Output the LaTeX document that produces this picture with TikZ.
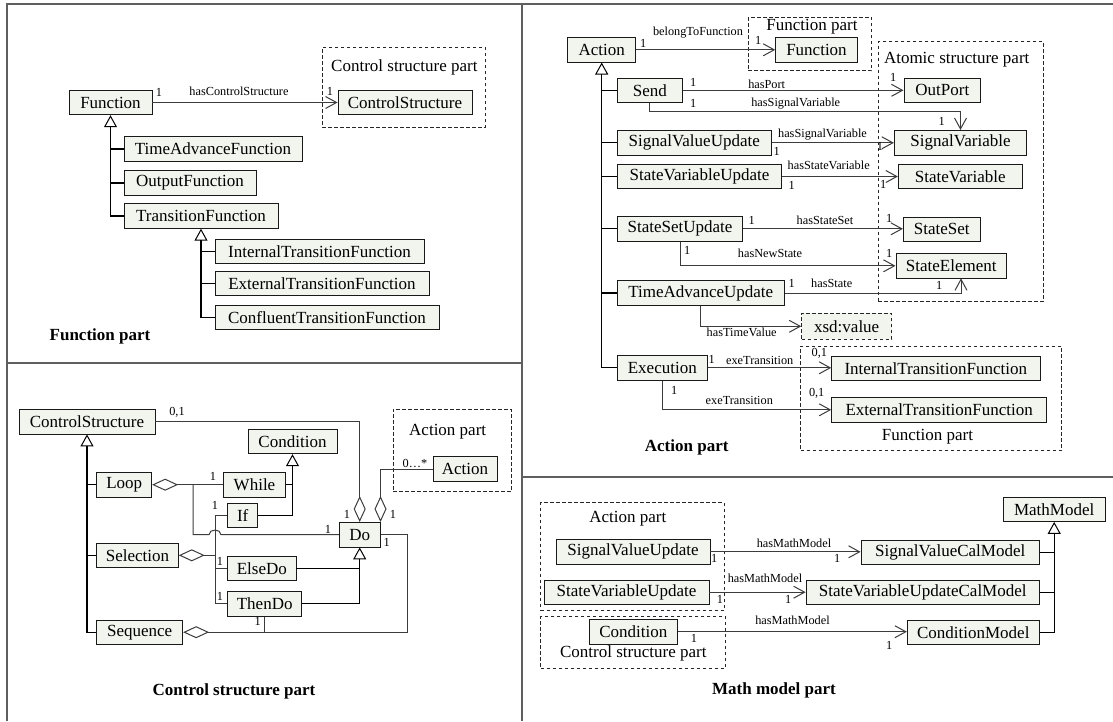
\documentclass[tikz,border=0pt]{standalone}
\usepackage{fontspec}
\setmainfont{Liberation Serif}
\usetikzlibrary{arrows.meta}
\definecolor{boxfill}{RGB}{242,244,238}
\definecolor{linegray}{RGB}{60,60,60}
\definecolor{framegray}{RGB}{95,95,95}

\begin{document}
\begin{tikzpicture}[x=1pt,y=-1pt,
  cls/.style={draw=black!90, fill=boxfill, line width=0.9pt, minimum height=24.5pt, inner sep=0pt, font=\fontsize{17}{17}\selectfont},
  grp/.style={draw=black!85, dash pattern=on 3.5pt off 2.5pt, line width=0.9pt, inner sep=0pt},
  grptext/.style={font=\fontsize{17}{17}\selectfont, inner sep=0pt},
  lbl/.style={font=\fontsize{12.3}{12}\selectfont, inner sep=0pt},
  ttl/.style={font=\bfseries\fontsize{17}{17}\selectfont, inner sep=0pt},
  frame/.style={draw=framegray, line width=1.4pt},
  link/.style={draw=linegray, line width=1pt},
  assoc/.style={link, -{Straight Barb[length=11pt,width=12pt,line width=1pt]}},
  genline/.style={draw=black, line width=1.2pt},
  gen/.style={genline, -{Triangle[open,length=12pt,width=13pt,line width=1pt]}},
  agg/.style={link, {Diamond[open,length=26pt,width=12pt,line width=1pt]}-},
]
\useasboundingbox (0,0) rectangle (1113,721);

% ---------- frame and quadrant dividers ----------
\coordinate (ftl) at (7,4);
\coordinate (ftr) at (1113,4);
\coordinate (fbl) at (7,721);
\coordinate (vtop) at (522,4);
\coordinate (vbot) at (522,721);
\coordinate (hl) at (7,363);
\coordinate (hm) at (522,363);
\coordinate (hr1) at (522,477);
\coordinate (hr2) at (1113,477);
\draw[frame] (fbl) -- (ftl) -- (ftr);
\draw[frame] (vtop) -- (vbot);
\draw[frame] (hl) -- (hm);
\draw[frame] (hr1) -- (hr2);

% ================= Function part =================
\node[grp,minimum width=163pt,minimum height=80pt] (csgrp) at (403.5,87) {};
\node[grptext,anchor=west] (csgrpt) at (331,67) {Control structure part};
\node[cls,minimum width=83pt] (fn) at (110.5,102.5) {Function};
\node[cls,minimum width=134pt] (cs1) at (405,102.5) {ControlStructure};
\node[cls,minimum width=178pt] (taf) at (213,149) {TimeAdvanceFunction};
\node[cls,minimum width=132pt] (of) at (190,183) {OutputFunction};
\node[cls,minimum width=154pt] (tf) at (201,216) {TransitionFunction};
\node[cls,minimum width=209pt] (itf) at (319.5,251.3) {InternalTransitionFunction};
\node[cls,minimum width=214pt] (etf) at (322,283.3) {ExternalTransitionFunction};
\node[cls,minimum width=224pt] (ctf) at (327,317.3) {ConfluentTransitionFunction};
\node[ttl] (t1) at (100,336.7) {Function part};

\draw[assoc] (fn.east) -- (cs1.west);
\node[lbl] (f1) at (159,92) {1};
\node[lbl] (f2) at (239,91) {hasControlStructure};
\node[lbl] (f3) at (330,91) {1};

\draw[gen] (tf.west) -| (fn.south);
\draw[genline] (taf.west) -- (taf.west -| fn.south);
\draw[genline] (of.west) -- (of.west -| fn.south);
\draw[gen] (ctf.west) -| (tf.south);
\draw[genline] (itf.west) -- (itf.west -| tf.south);
\draw[genline] (etf.west) -- (etf.west -| tf.south);

% ================= Control structure part =================
\node[grp,minimum width=118pt,minimum height=82.7pt] (actgrp) at (452,450.3) {};
\node[grptext,anchor=west] (actgrpt) at (409,432) {Action part};
\node[cls,minimum width=64pt] (act1) at (465,469) {Action};
\node[cls,minimum width=136pt] (cs2) at (87,421.7) {ControlStructure};
\node[cls,minimum width=89pt] (cond) at (292.5,441.5) {Condition};
\node[cls,minimum width=55pt] (loop) at (124.2,484.7) {Loop};
\node[cls,minimum width=62.4pt] (while) at (254.5,484.7) {While};
\node[cls,minimum width=30pt] (if) at (242.7,515.3) {If};
\node[cls,minimum width=40.7pt] (do) at (359.7,534.7) {Do};
\node[cls,minimum width=81.6pt] (sel) at (137.5,555.3) {Selection};
\node[cls,minimum width=68.3pt] (elsedo) at (261.8,568.3) {ElseDo};
\node[cls,minimum width=74pt] (thendo) at (264.7,603.8) {ThenDo};
\node[cls,minimum width=86pt] (seq) at (139.7,632.2) {Sequence};
\node[ttl] (t2) at (234,691.7) {Control structure part};

% inheritance
\draw[gen] (seq.west) -| (cs2.south);
\draw[genline] (loop.west) -- (loop.west -| cs2.south);
\draw[genline] (sel.west) -- (sel.west -| cs2.south);
\draw[gen] (if.east) -| (cond.south);
\draw[genline] (while.east) -- (while.east -| cond.south);
\draw[gen] (thendo.east) -| (do.south);
\draw[genline] (elsedo.east) -- (elsedo.east -| do.south);

% aggregations
\draw[agg] (do.north) |- (cs2.east);
\draw[agg] (do.north east) |- (act1.west);
\node[lbl] (c1) at (177,412.7) {0,1};
\node[lbl] (c2) at (415,463) {0…*};
\node[lbl] (c3) at (347,514) {1};
\node[lbl] (c4) at (393,514) {1};

\coordinate (lj) at (193,484.7);
\draw[agg] (loop.east) -- (while.west);
\draw[link] (lj) -- (lj |- do.west) -- (209,534.7)
  .. controls (209,528.5) and (221,528.5) .. (221,534.7) -- (do.west);
\node[lbl] (c5) at (213,476.7) {1};
\node[lbl] (c6) at (328,529) {1};

\coordinate (sj) at (215,555.3);
\draw[agg] (sel.east) -- (sj);
\draw[link] (if.west) -| (thendo.west -| sj) -- (thendo.west);
\draw[link] (elsedo.west) -- (elsedo.west -| sj);
\node[lbl] (c7) at (215,505) {1};
\node[lbl] (c8) at (220,561.7) {1};
\node[lbl] (c9) at (220,596.7) {1};

\coordinate (dj) at (407.3,632.2);
\draw[agg] (seq.east) -- (dj) |- (do.east);
\draw[link] (thendo.south) -- (thendo.south |- seq.east);
\node[lbl] (c10) at (386.7,542.7) {1};
\node[lbl] (c11) at (257.7,621.7) {1};

% ================= Action part =================
\node[grp,minimum width=123.4pt,minimum height=53.4pt] (fngrp) at (810,44) {};
\node[grptext] (fngrpt) at (812,26.7) {Function part};
\node[grp,minimum width=165pt,minimum height=260pt] (atgrp) at (960.8,171.7) {};
\node[grptext] (atgrpt) at (956.7,60) {Atomic structure part};
\node[grp,minimum width=261pt,minimum height=104.7pt] (fngrp2) at (931.2,398.3) {};
\node[grptext] (fngrp2t) at (927.5,436.7) {Function part};

\node[cls,minimum width=68pt] (act) at (601.7,49.8) {Action};
\node[cls,minimum width=81.6pt] (fnr) at (816.5,49.8) {Function};
\node[cls,minimum width=65pt] (send) at (649.8,90.3) {Send};
\node[cls,minimum width=76.7pt] (outport) at (942.3,90.3) {OutPort};
\node[cls,minimum width=153.7pt] (svu) at (694.2,142.8) {SignalValueUpdate};
\node[cls,minimum width=132.4pt] (sigvar) at (960.5,142.7) {SignalVariable};
\node[cls,minimum width=164.4pt] (svup) at (699.5,176.5) {StateVariableUpdate};
\node[cls,minimum width=124pt] (statevar) at (960.3,176.5) {StateVariable};
\node[cls,minimum width=125.4pt] (ssu) at (680,228.8) {StateSetUpdate};
\node[cls,minimum width=76.7pt] (stateset) at (941.7,229.2) {StateSet};
\node[cls,minimum width=110.7pt] (stateel) at (951.3,265.8) {StateElement};
\node[cls,minimum width=167pt] (tau) at (700.8,293) {TimeAdvanceUpdate};
\node[cls,grp,minimum width=90pt,minimum height=26pt] (xsd) at (846.7,326.3) {xsd:value};
\node[cls,minimum width=90pt] (exe) at (662.3,367.8) {Execution};
\node[cls,minimum width=208.3pt] (itf2) at (935.8,368.3) {InternalTransitionFunction};
\node[cls,minimum width=215pt] (etf2) at (939.2,409.8) {ExternalTransitionFunction};
\node[ttl] (t3) at (686.7,447.7) {Action part};

% inheritance
\draw[gen] (exe.west) -| (act.south);
\foreach \n in {send,svu,svup,ssu,tau}
  \draw[genline] (\n.west) -- (\n.west -| act.south);

% associations
\draw[assoc] (act.east) -- (fnr.west);
\node[lbl] (a1) at (643.3,43) {1};
\node[lbl] (a2) at (698,32.3) {belongToFunction};
\node[lbl] (a3) at (758.3,40) {1};

\draw[assoc] (send.east) -- (outport.west);
\node[lbl] (a4) at (693.3,82.7) {1};
\node[lbl] (a5) at (766.7,84) {hasPort};
\node[lbl] (a6) at (893.3,77.3) {1};

\coordinate (sb) at (960.5,111.7);
\draw[assoc] (send.south) |- (sb) -- (sigvar.north);
\node[lbl] (a7) at (693.3,103.7) {1};
\node[lbl] (a8) at (795.7,104) {hasSignalVariable};
\node[lbl] (a9) at (941.7,121.7) {1};

\draw[assoc] (svu.east) -- (svu.east -| sigvar.west);
\node[lbl] (a10) at (822.5,134.3) {hasSignalVariable};
\node[lbl] (a11) at (776.7,151.7) {1};
\node[lbl] (a12) at (880,146.7) {1};

\draw[assoc] (svup.east) -- (statevar.west);
\node[lbl] (a13) at (828.7,165.7) {hasStateVariable};
\node[lbl] (a14) at (791.7,185) {1};
\node[lbl] (a15) at (883.3,184) {1};

\draw[assoc] (ssu.east) -- (ssu.east -| stateset.west);
\node[lbl] (a16) at (751.7,220) {1};
\node[lbl] (a17) at (825,220) {hasStateSet};
\node[lbl] (a18) at (889.3,218.3) {1};

\draw[assoc] (ssu.south) |- (stateel.west);
\node[lbl] (a19) at (687.3,250) {1};
\node[lbl] (a20) at (770,253.3) {hasNewState};
\node[lbl] (a21) at (889.3,253.3) {1};

\coordinate (se) at (961,278.3);
\draw[assoc] (tau.east) -| (se);
\node[lbl] (a22) at (791.7,283.3) {1};
\node[lbl] (a23) at (831.7,283.3) {hasState};
\node[lbl] (a24) at (939.3,285) {1};

\draw[assoc] (tau.south) |- (xsd.west);
\node[lbl] (a25) at (741.7,332.3) {hasTimeValue};

\draw[assoc] (exe.east) -- (exe.east -| itf2.west);
\node[lbl] (a26) at (711.7,359.3) {1};
\node[lbl] (a27) at (759.7,360) {exeTransition};
\node[lbl] (a28) at (819.3,353.3) {0,1};

\draw[assoc] (exe.south) |- (etf2.west);
\node[lbl] (a29) at (674.3,390) {1};
\node[lbl] (a30) at (739.3,400) {exeTransition};
\node[lbl] (a31) at (816.7,393.3) {0,1};

% ================= Math model part =================
\node[grp,minimum width=183.6pt,minimum height=108pt] (mact) at (632.5,556.7) {};
\node[grptext] (mactt) at (627.8,519) {Action part};
\node[grp,minimum width=185pt,minimum height=51.6pt] (mcs) at (633.2,642.5) {};
\node[grptext] (mcst) at (633.3,653.5) {Control structure part};

\node[cls,minimum width=154pt] (svu2) at (633,551.8) {SignalValueUpdate};
\node[cls,minimum width=165pt] (svup2) at (626.5,592.2) {StateVariableUpdate};
\node[cls,minimum width=88pt] (cond2) at (633.3,631.7) {Condition};
\node[cls,minimum width=178.3pt] (svcm) at (950.2,552.2) {SignalValueCalModel};
\node[cls,minimum width=233.3pt] (svucm) at (922.7,592.2) {StateVariableUpdateCalModel};
\node[cls,minimum width=132pt] (cm) at (973.3,632.2) {ConditionModel};
\node[cls,minimum width=101.7pt] (mm) at (1054.2,509.2) {MathModel};
\node[ttl] (t4) at (774,690) {Math model part};

\draw[gen] (cm.east) -| (mm.south);
\draw[genline] (svcm.east) -- (svcm.east -| mm.south);
\draw[genline] (svucm.east) -- (svucm.east -| mm.south);

\draw[assoc] (svu2.east) -- (svu2.east -| svcm.west);
\node[lbl] (m1) at (794,543.3) {hasMathModel};
\node[lbl] (m2) at (714.3,558.3) {1};
\node[lbl] (m3) at (837.3,558.3) {1};

\draw[assoc] (svup2.east) -- (svup2.east -| svucm.west);
\node[lbl] (m4) at (765,578.3) {hasMathModel};
\node[lbl] (m5) at (720,599.3) {1};
\node[lbl] (m6) at (788.3,599.3) {1};

\draw[assoc] (cond2.east) -- (cond2.east -| cm.west);
\node[lbl] (m7) at (792.5,620) {hasMathModel};
\node[lbl] (m8) at (694,638.5) {1};
\node[lbl] (m9) at (889.3,645.7) {1};

\end{tikzpicture}
\end{document}
